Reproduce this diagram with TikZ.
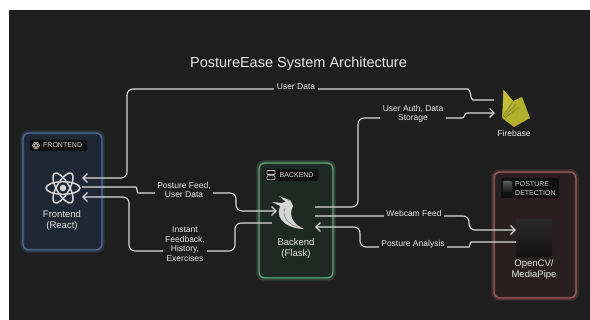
\documentclass[tikz,border=0pt]{standalone}
\usepackage{fontspec}
\setmainfont{Liberation Sans}
\usetikzlibrary{arrows.meta,calc}
\definecolor{bg}{HTML}{1E1E1E}
\definecolor{lnc}{HTML}{DCDCDC}
\definecolor{txt}{HTML}{E6E6E6}
\definecolor{feB}{HTML}{4A6892}
\definecolor{feF}{HTML}{1F2735}
\definecolor{beB}{HTML}{5C9A72}
\definecolor{beF}{HTML}{1D2922}
\definecolor{pdB}{HTML}{9A5858}
\definecolor{pdF}{HTML}{2A1F20}
\definecolor{badgec}{HTML}{101010}
\definecolor{badgetxt}{HTML}{D0D0D0}
\definecolor{iconc}{HTML}{D6D6D6}
\definecolor{fbA}{HTML}{C2BE36}
\definecolor{fbB}{HTML}{8E8A22}
\definecolor{fbC}{HTML}{B3AF2E}
\definecolor{cvA}{HTML}{2A2A2A}
\definecolor{cvB}{HTML}{121212}
\begin{document}
\begin{tikzpicture}[x=1pt,y=-1pt,
  conn/.style={draw=lnc, line width=1.1pt, rounded corners=6pt},
  arr/.style={-{Straight Barb[length=4.5pt,width=9pt]}},
  box/.style={rounded corners=6pt, line width=1.3pt, inner sep=0pt},
  badge/.style={fill=badgec, rounded corners=1.5pt, inner sep=0pt},
  bt/.style={text=badgetxt, font=\fontsize{7}{8.5}\selectfont, inner sep=0pt, align=left},
  lbl/.style={fill=bg, text=txt, font=\fontsize{8.5}{9.5}\selectfont, align=center, inner sep=2.5pt},
  main/.style={text=txt, font=\fontsize{9.5}{11}\selectfont, align=center, inner sep=0pt},
  icon/.style={inner sep=0pt}
]
\useasboundingbox (0,0) rectangle (590,320);
\fill[white] (0,0) rectangle (590,320);
\fill[bg] (9,10) rectangle (590,320);

% title
\node[main, font=\fontsize{14.5}{16}\selectfont] (title) at (298.5,64) {PostureEase System Architecture};

% boxes
\node[box, draw=feB, fill=feF, minimum width=79pt, minimum height=117pt] (fe) at (62.5,191.5) {};
\draw[feB, opacity=.3, line width=4pt, rounded corners=6pt] (fe.south west) rectangle (fe.north east);
\node[box, draw=beB, fill=beF, minimum width=74pt, minimum height=115pt] (be) at (296,220.5) {};
\draw[beB, opacity=.3, line width=4pt, rounded corners=6pt] (be.south west) rectangle (be.north east);
\node[box, draw=pdB, fill=pdF, minimum width=82pt, minimum height=126pt] (pd) at (535,235) {};
\draw[pdB, opacity=.3, line width=4pt, rounded corners=6pt] (pd.south west) rectangle (pd.north east);

% badges
\node[badge, minimum width=57pt, minimum height=11pt] (feb) at (58.5,145.5) {};
\node[bt, anchor=west] (febt) at (43,145.5) {FRONTEND};
\begin{scope}[draw=badgetxt, line width=0.5pt]
  \draw (36,145.5) ellipse [x radius=3.8, y radius=1.5];
  \draw[rotate around={60:(36,145.5)}] (36,145.5) ellipse [x radius=3.8, y radius=1.5];
  \draw[rotate around={-60:(36,145.5)}] (36,145.5) ellipse [x radius=3.8, y radius=1.5];
\end{scope}

\node[badge, minimum width=53pt, minimum height=12pt] (beb) at (291.5,175) {};
\node[bt, anchor=west] (bebt) at (279.5,175) {BACKEND};
\draw[badgetxt, line width=0.6pt, rounded corners=0.8pt] (267,170.5) rectangle (275,174.5);
\draw[badgetxt, line width=0.6pt, rounded corners=0.8pt] (267,175.8) rectangle (275,179.8);

\node[badge, minimum width=58pt, minimum height=20pt] (pdb) at (530,188) {};
\node[bt, anchor=west] (pdbt) at (515,188.5) {POSTURE\\DETECTION};
\shade[top color=gray!70!black, bottom color=black!90, rounded corners=0.8pt] (503,181) rectangle (512,192);

% frontend content
\node[icon, minimum width=38pt, minimum height=32pt] (react) at (63,188) {};
\begin{scope}[draw=iconc, line width=1.5pt]
  \draw (react.center) ellipse [x radius=17, y radius=6.3];
  \draw[rotate around={60:(react.center)}] (react.center) ellipse [x radius=17, y radius=6.3];
  \draw[rotate around={-60:(react.center)}] (react.center) ellipse [x radius=17, y radius=6.3];
\end{scope}
\fill[iconc] (react.center) circle (3.3);
\node[main] (fet) at (62,221) {Frontend\\(React)};

% backend content
\node[icon, minimum width=38pt, minimum height=30pt] (flask) at (296,215) {};
\fill[iconc] (282,203) .. controls (274,214) and (281,228) .. (304,229)
   .. controls (293,224) and (288,216) .. (293,206) -- (290,200) -- cycle;
\fill[iconc] (283,203) -- (272,202) -- (282,207) -- cycle;
\fill[iconc] (286,202) -- (279,196) -- (289,200) -- cycle;
\draw[black!60, line width=0.4pt] (285,208) .. controls (282,216) and (287,224) .. (298,227);
\node[main] (bet) at (296,249) {Backend\\(Flask)};

% detection content
\node[icon, minimum width=36pt, minimum height=38pt] (cv) at (534,238) {};
\shade[top color=cvA, bottom color=cvB, rounded corners=1.5pt] (cv.south west) rectangle (cv.north east);
\node[main] (cvt) at (534,269.5) {OpenCV/\\MediaPipe};

% firebase
\node[icon, minimum width=28pt, minimum height=37pt] (fb) at (516,108.5) {};
\fill[fbC] (503.5,90) -- (513,101) -- (522,97) -- (530,118) -- (514,127) -- (502,118) -- cycle;
\fill[fbA] (503.5,90) -- (513,101) -- (503,114) -- cycle;
\draw[fbB, line width=0.8pt] (503,116) -- (513,101);
\draw[fbB, line width=0.8pt] (504,117) -- (516,104);
\draw[fbB, line width=0.8pt] (505,118) -- (519,107);
\node[main, font=\fontsize{8.5}{10}\selectfont] (fbt) at (514,133.5) {Firebase};

% connectors
\draw[conn, arr] ([xshift=-8pt,yshift=8.5pt]fb.west) -- (479,100)
   .. controls (470,100) and (471,89) .. (462,89) -- (127,89) -- (127,178)
   -- ([yshift=10pt]react.east);
\draw[conn, arr] ([yshift=1pt]react.east) -- (130,187)
   .. controls (137,187) and (137,193) .. (144,193) -- (236,193) -- (236,211)
   -- ([yshift=4pt]flask.west);
\draw[conn, arr] ([xshift=-5pt,yshift=-8pt]flask.west) -- (235,223) -- (235,251)
   -- (129,251) -- (129,197) -- ([yshift=-9pt]react.east);
\draw[conn, arr] ([yshift=8pt]flask.east) -- (358,207) -- (358,118) -- (456,118)
   .. controls (465,118) and (464,113) .. (473,113) -- ([xshift=-7pt,yshift=-4.5pt]fb.west);
\draw[conn, arr] ([yshift=-1pt]flask.east) -- (469,216) -- (469,230)
   -- ([yshift=8pt]cv.west);
\draw[conn, arr] ([yshift=-4pt]cv.west) -- (477,242)
   .. controls (470,242) and (470,247) .. (463,247) -- (360,247) -- (360,227)
   -- ([yshift=-12pt]flask.east);

% labels
\node[lbl] (l1) at (296,86.5) {User Data};
\node[lbl] (l2) at (184,190) {Posture Feed,\\User Data};
\node[lbl] (l3) at (185,244) {Instant\\Feedback,\\History,\\Exercises};
\node[lbl] (l4) at (413,114) {User Auth, Data\\Storage};
\node[lbl] (l5) at (414,213) {Webcam Feed};
\node[lbl] (l6) at (413,244) {Posture Analysis};
\end{tikzpicture}
\end{document}
